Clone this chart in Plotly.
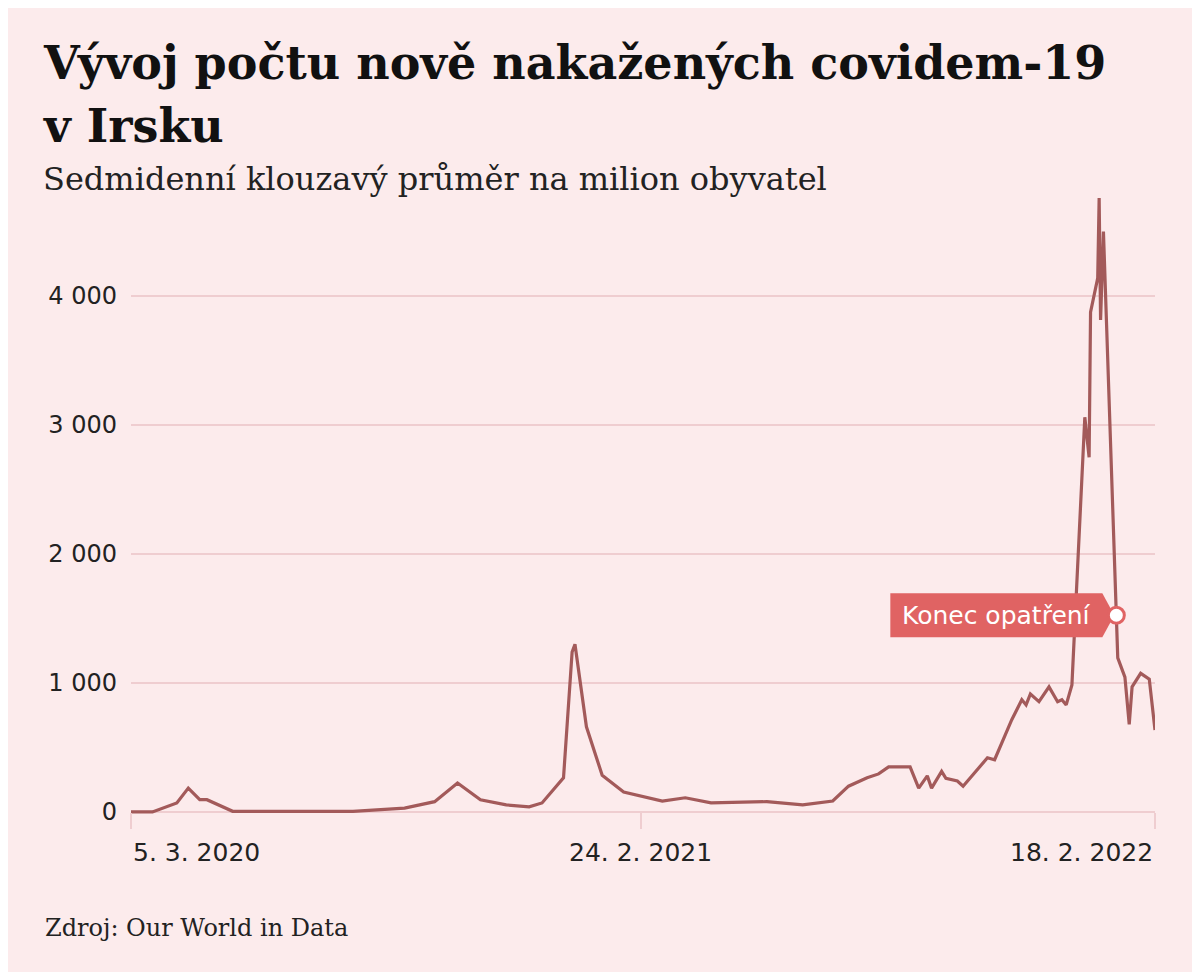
"""Ireland: new COVID-19 cases, 7-day rolling average per million."""

import plotly.graph_objects as go

# data
dates = [
    "2020-03-05", "2020-03-20", "2020-04-06", "2020-04-14", "2020-04-22",
    "2020-04-27", "2020-05-15", "2020-08-07", "2020-09-12", "2020-10-03",
    "2020-10-19", "2020-11-04", "2020-11-22", "2020-12-08", "2020-12-17",
    "2021-01-01", "2021-01-07", "2021-01-09", "2021-01-17", "2021-01-28",
    "2021-02-12", "2021-03-11", "2021-03-27", "2021-04-14", "2021-05-23",
    "2021-06-17", "2021-07-08", "2021-07-19", "2021-08-01", "2021-08-09",
    "2021-08-16", "2021-08-31", "2021-09-06", "2021-09-12", "2021-09-15",
    "2021-09-22", "2021-09-25", "2021-10-03", "2021-10-07", "2021-10-24",
    "2021-10-29", "2021-11-10", "2021-11-17", "2021-11-20", "2021-11-23",
    "2021-11-29", "2021-12-06", "2021-12-12", "2021-12-15", "2021-12-18",
    "2021-12-22", "2021-12-31", "2022-01-03", "2022-01-04", "2022-01-09",
    "2022-01-10", "2022-01-11", "2022-01-13", "2022-01-23", "2022-01-28",
    "2022-01-31", "2022-02-02", "2022-02-08", "2022-02-14", "2022-02-18",
]
cases_per_million = [
    0, 0, 70, 185, 95,
    95, 5, 5, 30, 80,
    225, 95, 55, 40, 70,
    265, 1240, 1300, 660, 285,
    155, 85, 110, 70, 80,
    55, 85, 200, 265, 295,
    350, 350, 185, 280, 185,
    315, 260, 240, 200, 420,
    405, 715, 870, 830, 915,
    855, 970, 855, 870, 830,
    985, 3060, 2750, 3875, 4140,
    4760, 3815, 4500, 1195, 1045,
    680, 970, 1075, 1030, 635,
]

y_ticks = [0, 1000, 2000, 3000, 4000]
x_ticks = ["2020-03-05", "2021-02-24", "2022-02-18"]
x_tick_labels = ["5. 3. 2020", "24. 2. 2021", "18. 2. 2022"]
x_tick_anchors = ["left", "center", "right"]

end_date = "2022-01-22"
end_value = 1525
end_label = "Konec opatření"

BG = "#fcebec"
LINE = "#a35a5a"
GRID = "#efcdd0"
RED = "#e06363"
TEXT = "#222222"

# the page adds an 8px body margin, so layout pixels sit 8px up/left
PAGE = 8
W_PLOT, H_PLOT = 1024, 627
LEFT, TOP = 131 - PAGE, 190 - PAGE
RIGHT = 1200 - LEFT - W_PLOT
BOTTOM = 972 - TOP - H_PLOT


def px_x(px):
    return (px - PAGE - LEFT) / W_PLOT


def px_y(py):
    return (TOP + H_PLOT - (py - PAGE)) / H_PLOT


fig = go.Figure()
fig.add_trace(go.Scatter(
    x=dates,
    y=cases_per_million,
    mode="lines",
    line=dict(color=LINE, width=3.2),
    hoverinfo="skip",
))

# label box with a pointed right side, then the white dot
fig.add_shape(
    type="path", xref="x", yref="y",
    xsizemode="pixel", ysizemode="pixel",
    xanchor=end_date, yanchor=end_value,
    path="M -226,22 L -14,22 L -2,0 L -14,-22 L -226,-22 Z",
    fillcolor=RED, line=dict(width=0), layer="above",
)
fig.add_shape(
    type="circle", xref="x", yref="y",
    xsizemode="pixel", ysizemode="pixel",
    xanchor=end_date, yanchor=end_value,
    x0=-8, x1=8, y0=-8, y1=8,
    fillcolor="white", line=dict(color=RED, width=3), layer="above",
)
fig.add_annotation(
    x=end_date, y=end_value, xref="x", yref="y",
    text=end_label, showarrow=False, xanchor="center", xshift=-120,
    font=dict(family="DejaVu Sans", size=25, color="white"),
)

for tick, label, anchor in zip(x_ticks, x_tick_labels, x_tick_anchors):
    fig.add_annotation(
        x=tick, y=0, xref="x", yref="paper", yanchor="top", yshift=-19,
        text=label, showarrow=False, xanchor=anchor,
        font=dict(family="DejaVu Sans", size=25, color=TEXT),
    )

fig.add_annotation(
    x=px_x(41), y=px_y(34), xref="paper", yref="paper",
    xanchor="left", yanchor="top", showarrow=False,
    text="Vývoj počtu nově nakažených covidem-19",
    font=dict(family="DejaVu Serif", size=46, weight=700, color="#111111"),
)
fig.add_annotation(
    x=px_x(41), y=px_y(97), xref="paper", yref="paper",
    xanchor="left", yanchor="top", showarrow=False,
    text="v Irsku",
    font=dict(family="DejaVu Serif", size=46, weight=700, color="#111111"),
)
fig.add_annotation(
    x=px_x(41), y=px_y(158), xref="paper", yref="paper",
    xanchor="left", yanchor="top", showarrow=False,
    text="Sedmidenní klouzavý průměr na milion obyvatel",
    font=dict(family="DejaVu Serif", size=32, color=TEXT),
)
fig.add_annotation(
    x=px_x(43), y=px_y(912), xref="paper", yref="paper",
    xanchor="left", yanchor="top", showarrow=False,
    text="Zdroj: Our World in Data",
    font=dict(family="DejaVu Serif", size=24, color=TEXT),
)

fig.update_layout(
    width=1200,
    height=972,
    paper_bgcolor=BG,
    plot_bgcolor=BG,
    showlegend=False,
    separators=", ",
    margin=dict(l=LEFT, r=RIGHT, t=TOP, b=BOTTOM),
    xaxis=dict(
        type="date",
        range=[dates[0], dates[-1]],
        showgrid=False,
        zeroline=False,
        showline=False,
        showticklabels=False,
        tickmode="array",
        tickvals=x_ticks,
        ticks="outside",
        ticklen=16,
        tickwidth=1.5,
        tickcolor=GRID,
        anchor="free",
        position=5 / H_PLOT,
    ),
    yaxis=dict(
        range=[-39, 4822],
        tickmode="array",
        tickvals=y_ticks,
        tickformat=",d",
        showgrid=True,
        gridcolor=GRID,
        gridwidth=1.5,
        zeroline=False,
        showline=False,
        ticks="",
        ticklabelstandoff=13,
        tickfont=dict(family="DejaVu Sans", size=24, color=TEXT),
    ),
)

fig.write_html("out.html")
